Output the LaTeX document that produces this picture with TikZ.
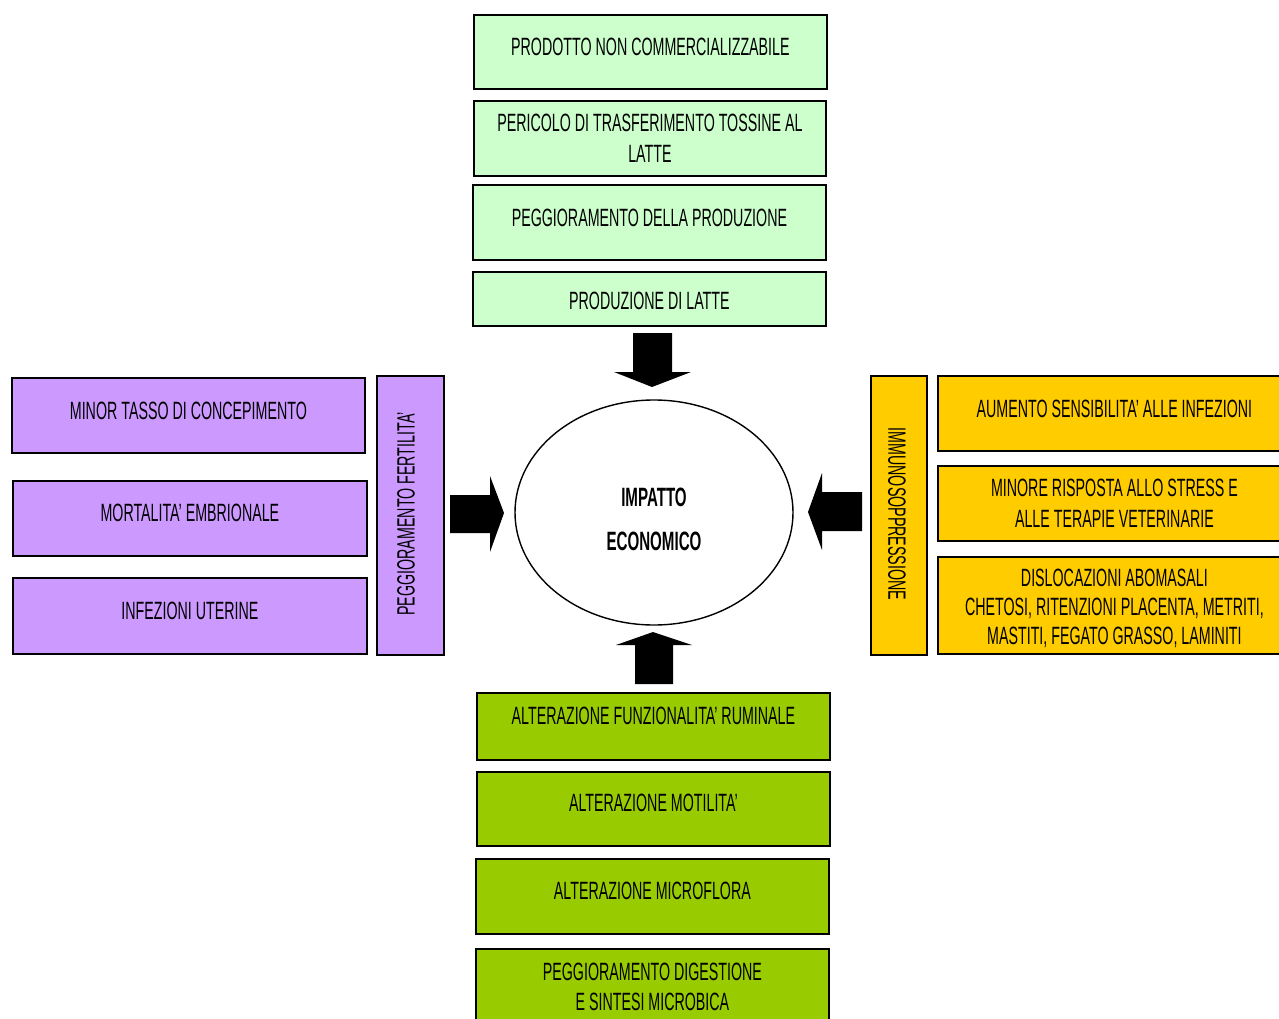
\documentclass[tikz,border=0pt]{standalone}
\usepackage{fontspec}
\usetikzlibrary{shapes.geometric}
\newfontfamily\agency[FakeStretch=0.57]{Liberation Sans}
\definecolor{lgreen}{HTML}{CCFFCC}
\definecolor{lilac}{HTML}{CC99FF}
\definecolor{gold}{HTML}{FFCC00}
\definecolor{olive}{HTML}{99CC00}
\newcommand{\up}[2]{\raisebox{#1pt}[\height][\depth]{#2}}
\tikzset{
  box/.style={draw=black, line width=1.8pt, align=center, inner sep=0pt, anchor=north west,
    font=\agency\fontsize{25}{30.5}\selectfont},
  topbox/.style={box, fill=lgreen},
  leftbox/.style={box, fill=lilac},
  rightbox/.style={box, fill=gold},
  botbox/.style={box, fill=olive},
  blockarrow/.style={fill=black, draw=none},
}
\begin{document}
\begin{tikzpicture}[x=1pt,y=-1pt]
\clip (0,0) rectangle (1279,1019);
\fill[white] (0,0) rectangle (1279,1019);

% top column
\node[topbox, minimum width=353pt, minimum height=74pt] (t1) at (473,14) {\up{5}{PRODOTTO NON COMMERCIALIZZABILE}};
\node[topbox, minimum width=352pt, minimum height=75pt] (t2) at (473,100) {PERICOLO DI TRASFERIMENTO TOSSINE AL\\LATTE};
\node[topbox, minimum width=353pt, minimum height=75pt] (t3) at (472,184) {\up{5}{PEGGIORAMENTO DELLA PRODUZIONE}};
\node[topbox, minimum width=353pt, minimum height=54pt] (t4) at (472,271) {\up{-2}{PRODUZIONE DI LATTE}};

% centre
\node[draw=black, line width=1.4pt, ellipse, minimum width=278pt, minimum height=225pt] (impact) at (654,512.5) {};
\node[align=center, inner sep=0pt, font=\agency\bfseries\fontsize{26.5}{44}\selectfont] (impactlabel) at ([yshift=-7pt]impact.center) {IMPATTO\\ECONOMICO};

% left column
\node[leftbox, minimum width=353pt, minimum height=75pt] (l1) at (11,377) {\up{5}{MINOR TASSO DI CONCEPIMENTO}};
\node[leftbox, minimum width=354pt, minimum height=75pt] (l2) at (12,480) {\up{6}{MORTALITA’ EMBRIONALE}};
\node[leftbox, minimum width=354pt, minimum height=76pt] (l3) at (12,577) {\up{5}{INFEZIONI UTERINE}};
\node[leftbox, minimum width=67pt, minimum height=279pt] (lv) at (376,375) {};
\node[rotate=90, font=\agency\fontsize{25}{30}\selectfont] (lvt) at (406,514) {PEGGIORAMENTO FERTILITA’};

% right column
\node[rightbox, minimum width=56pt, minimum height=279pt] (rv) at (870,375) {};
\node[rotate=-90, font=\agency\fontsize{25}{30}\selectfont] (rvt) at (897,514) {IMMUNOSOPPRESSIONE};
\node[rightbox, minimum width=353pt, minimum height=75pt] (r1) at (937,375) {\up{5}{AUMENTO SENSIBILITA’ ALLE INFEZIONI}};
\node[rightbox, minimum width=353pt, minimum height=75pt] (r2) at (937,465) {MINORE RISPOSTA ALLO STRESS E\\ALLE TERAPIE VETERINARIE};
\node[rightbox, minimum width=353pt, minimum height=97pt] (r3) at (937,556) {};
\node[align=center, inner sep=0pt, font=\agency\fontsize{25}{29}\selectfont] (r3label) at ([yshift=-3pt]r3.center) {DISLOCAZIONI ABOMASALI\\CHETOSI, RITENZIONI PLACENTA, METRITI,\\MASTITI, FEGATO GRASSO, LAMINITI};

% bottom column
\node[botbox, minimum width=353pt, minimum height=67pt] (g1) at (476,692) {\up{11}{ALTERAZIONE FUNZIONALITA’ RUMINALE}};
\node[botbox, minimum width=353pt, minimum height=74pt] (g2) at (476,771) {\up{6}{ALTERAZIONE MOTILITA’}};
\node[botbox, minimum width=353pt, minimum height=75pt] (g3) at (475,858) {\up{6}{ALTERAZIONE MICROFLORA}};
\node[botbox, minimum width=353pt, minimum height=76pt] (g4) at (475,948) {PEGGIORAMENTO DIGESTIONE\\E SINTESI MICROBICA};

% block arrows
\fill[blockarrow] (633,333) -- (672,333) -- (672,372) -- (691,372) -- (652,387) -- (614,372) -- (633,372) -- cycle;
\fill[blockarrow] (635,684) -- (673,684) -- (673,645) -- (692,645) -- (653,632) -- (616,645) -- (635,645) -- cycle;
\fill[blockarrow] (450,495) -- (490,495) -- (490,476) -- (504,513) -- (490,552) -- (490,533) -- (450,533) -- cycle;
\fill[blockarrow] (862,492) -- (822,492) -- (822,473) -- (808,512) -- (822,550) -- (822,531) -- (862,531) -- cycle;
\end{tikzpicture}
\end{document}
